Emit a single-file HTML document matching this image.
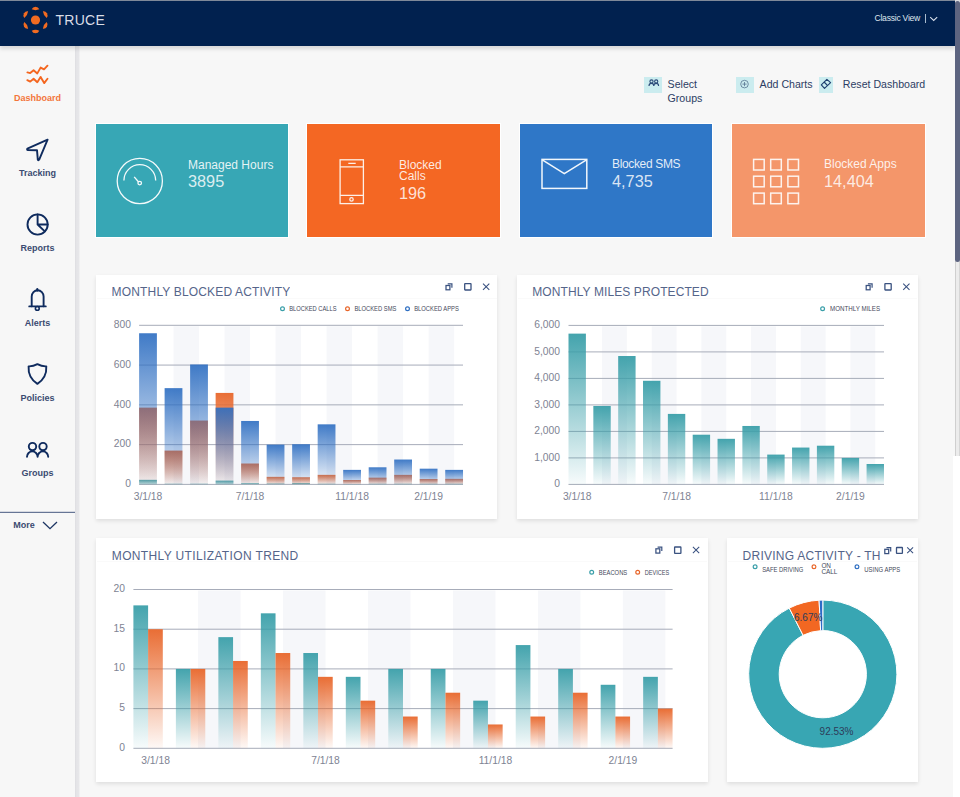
<!DOCTYPE html>
<html lang="en">
<head>
<meta charset="utf-8">
<title>TRUCE Dashboard</title>
<style>
*{box-sizing:border-box;margin:0;padding:0}
html,body{width:960px;height:797px;overflow:hidden;background:#f7f7f7;font-family:"Liberation Sans",Arial,sans-serif}
.abs{position:absolute}
.t{position:absolute;white-space:nowrap;line-height:1}
#hdr{position:absolute;left:0;top:0;width:955px;height:46px;background:#01214f;border-top:1px solid #7f8999;box-shadow:0 2.5px 4px rgba(0,0,0,.13);z-index:3}
#side{position:absolute;left:0;top:46px;width:75px;height:751px;background:#f7f7f7;z-index:2}
#sideshadow{position:absolute;left:75px;top:46px;width:6px;height:751px;background:linear-gradient(to right,#dcdce0 0,#e4e4e7 1.2px,#e6e6e9 3.6px,#f7f7f7 5.2px);z-index:2}
.nav{position:absolute;left:0;width:75px;text-align:center;font-size:9px;font-weight:bold;color:#3b4b71}
.nav svg{position:absolute}
.card{position:absolute;top:124px;height:113px;outline:1px solid #fff}
.card .lab{position:absolute;left:92px;font-size:12px;color:rgba(255,255,255,.88);white-space:nowrap;line-height:1}
.card .val{position:absolute;left:92px;font-size:16.3px;color:rgba(255,255,255,.82);white-space:nowrap;line-height:1}
.w{position:absolute;background:#fff;box-shadow:0 2px 4px rgba(0,0,0,.1)}
.wt{position:absolute;font-size:12px;color:#55658a;white-space:nowrap;line-height:1;overflow:hidden}
.ov{position:absolute;left:0;top:0;z-index:1;pointer-events:none}
.abox{position:absolute;top:77px;height:16px;background:#cbecef}
.atext{position:absolute;font-size:10.6px;color:#2c3d64;white-space:nowrap;line-height:1}
#sbtop{position:absolute;left:955px;top:0;width:5px;height:3px;background:#dcdce0;z-index:4}
#sb{position:absolute;left:955px;top:1px;width:5px;height:261px;background:#5d6480;border-radius:2.5px;z-index:5}
#sbt{position:absolute;left:955px;top:261px;width:5px;height:195px;background:#ececec;border-left:1px solid #cfcfcf;border-right:1px solid #d6d6d6;z-index:4}
#sbw{position:absolute;left:953px;top:456px;width:7px;height:341px;background:#fff;z-index:4}
</style>
</head>
<body>
<!-- header -->
<div id="hdr">
  <svg class="abs" style="left:20px;top:3px" width="32" height="32" viewBox="0 0 32 32">
    <g transform="translate(15.5 16)" fill="#f26b21">
      <circle cx="0" cy="0" r="4.6"/>
      <path d="M-3.8 -10.7 A4.1 4.1 0 0 1 3.8 -10.7 A9.5 9.5 0 0 1 -3.8 -10.7 Z"/>
      <path d="M-3.8 -10.7 A4.1 4.1 0 0 1 3.8 -10.7 A9.5 9.5 0 0 1 -3.8 -10.7 Z" transform="rotate(60)"/>
      <path d="M-3.8 -10.7 A4.1 4.1 0 0 1 3.8 -10.7 A9.5 9.5 0 0 1 -3.8 -10.7 Z" transform="rotate(120)"/>
      <path d="M-3.8 -10.7 A4.1 4.1 0 0 1 3.8 -10.7 A9.5 9.5 0 0 1 -3.8 -10.7 Z" transform="rotate(180)"/>
      <path d="M-3.8 -10.7 A4.1 4.1 0 0 1 3.8 -10.7 A9.5 9.5 0 0 1 -3.8 -10.7 Z" transform="rotate(240)"/>
      <path d="M-3.8 -10.7 A4.1 4.1 0 0 1 3.8 -10.7 A9.5 9.5 0 0 1 -3.8 -10.7 Z" transform="rotate(300)"/>
    </g>
  </svg>
  <div class="t" style="left:55.5px;top:11.5px;font-size:14px;color:#d9dde6;letter-spacing:0.25px">TRUCE</div>
  <div class="t" style="left:874.5px;top:12.5px;font-size:8.6px;color:#dfe5ee;letter-spacing:-0.25px">Classic View</div>
  <div class="abs" style="left:924.5px;top:13px;width:1px;height:8.7px;background:#a9bbcf"></div>
  <svg class="abs" style="left:929px;top:13.5px" width="10" height="8" viewBox="0 0 10 8">
    <path d="M1.2 2.2 L4.7 5.5 L8.2 2.2" fill="none" stroke="#dce3ee" stroke-width="1.05"/>
  </svg>
</div>

<!-- sidebar -->
<div id="side">
  <svg class="abs" style="left:0;top:0" width="75" height="751" viewBox="0 46 75 751">
    <g fill="none" stroke="#f4661f" stroke-width="1.9" stroke-linejoin="round" stroke-linecap="round">
      <path d="M27.4 72.4 L30.2 73.1 L33.6 70.3 L37.3 73.4 L40.6 67.6 L44 69.4 L47.5 65.7"/>
      <path d="M27.3 80.2 L30.2 81.6 L33.6 78.7 L37.3 82.2 L40.6 76.9 L44.2 83.1 L47.5 78.7"/>
    </g>
    <g fill="none" stroke="#0f2b5e" stroke-width="1.9" stroke-linejoin="round" stroke-linecap="round">
      <path d="M47.6 139.6 L27.4 148.6 Q26.6 149.8 28 150.1 L37 150.2 L37.8 159.6 Q38.4 160.9 39.2 159.6 Z"/>
      <circle cx="37.6" cy="224.5" r="10.1"/>
      <path d="M37.6 214.4 V224.5 H47.7 M37.6 224.5 L44.8 231.4"/>
      <path d="M31.7 306.3 V296.5 A5.95 6.3 0 0 1 43.6 296.5 V306.3"/>
      <path d="M29.2 306.4 H45.8" stroke-width="1.8"/>
      <path d="M37.3 289.2 V290.6" stroke-width="2.2"/>
      <circle cx="37.3" cy="308.4" r="1.9" stroke-width="1.6"/>
      <path d="M37.4 364.2 Q33 366.6 28.6 366.4 Q27.8 377.6 37.4 383.9 Q47 377.6 46.3 366.4 Q41.8 366.6 37.4 364.2 Z"/>
      <circle cx="32.5" cy="446.6" r="3.7"/>
      <circle cx="43" cy="446.6" r="3.7"/>
      <path d="M27 456.8 A5.3 5.4 0 0 1 37.6 456.8 A5.3 5.4 0 0 1 48.2 456.8"/>
    </g>
    <rect x="0" y="511.8" width="75" height="1.1" fill="#56678a"/>
    <path d="M43 522 L50 528.6 L57 522" fill="none" stroke="#1d3563" stroke-width="1.3"/>
  </svg>
  <div class="t nav" style="top:48px;color:#f3753b">Dashboard</div>
  <div class="t nav" style="top:123px">Tracking</div>
  <div class="t nav" style="top:198px">Reports</div>
  <div class="t nav" style="top:273px">Alerts</div>
  <div class="t nav" style="top:348px">Policies</div>
  <div class="t nav" style="top:423px">Groups</div>
  <div class="t" style="left:13.2px;top:474.6px;font-size:9px;font-weight:bold;color:#3b4b71">More</div>
</div>
<div id="sideshadow"></div>

<!-- action bar -->
<div class="abox" style="left:644px;width:18px"></div>
<svg class="abs" style="left:644px;top:77px" width="18" height="16" viewBox="644 77 18 16">
  <g fill="none" stroke="#2b4a78" stroke-width="1.1">
    <circle cx="651.5" cy="81.5" r="1.6"/>
    <circle cx="656.2" cy="81.5" r="1.6"/>
    <path d="M649 86 A2.4 2.6 0 0 1 653.8 86 A2.4 2.6 0 0 1 658.6 86"/>
  </g>
</svg>
<div class="atext" style="left:667.6px;top:78.8px">Select</div>
<div class="atext" style="left:667.6px;top:93.4px">Groups</div>
<div class="abox" style="left:736px;width:18px"></div>
<svg class="abs" style="left:736px;top:77px" width="18" height="16" viewBox="736 77 18 16">
  <g fill="none" stroke="#56748f" stroke-width="0.8">
    <circle cx="744.5" cy="84.1" r="3.8"/>
    <path d="M744.5 82 V86.2 M742.4 84.1 H746.6"/>
  </g>
</svg>
<div class="atext" style="left:759.6px;top:79.2px">Add Charts</div>
<div class="abox" style="left:818.5px;width:14.5px"></div>
<svg class="abs" style="left:818px;top:77px" width="16" height="16" viewBox="818 77 16 16">
  <g fill="none" stroke="#1e3f6f" stroke-width="1.15" stroke-linejoin="round">
    <path d="M826.9 79.4 L830.6 82.6 L824.5 88.4 L821.3 84.9 Z"/>
    <path d="M824.1 82 L827.6 85.6"/>
  </g>
</svg>
<div class="atext" style="left:842.8px;top:79.2px">Reset Dashboard</div>

<!-- KPI cards -->
<div class="card" style="left:96px;width:192px;background:#37a7b5">
  <svg class="abs" style="left:0;top:0" width="192" height="113" viewBox="96 124 192 113">
    <g fill="none" stroke="#f4fafb" stroke-width="1.3">
      <circle cx="139.8" cy="181" r="22.6"/>
      <path d="M123.9 180.6 A15.9 15.9 0 0 1 155.7 180.6"/>
      <path d="M134.2 176.8 L138.6 182"/>
      <circle cx="139.7" cy="183.1" r="1.8"/>
    </g>
  </svg>
  <div class="lab" style="top:34.6px">Managed Hours</div>
  <div class="val" style="top:49px">3895</div>
</div>
<div class="card" style="left:307px;width:193px;background:#f46723">
  <svg class="abs" style="left:0;top:0" width="193" height="113" viewBox="307 124 193 113">
    <g fill="none" stroke="#fdf0e8" stroke-width="1.3">
      <rect x="340.1" y="159.8" width="23.3" height="43.8"/>
      <path d="M340.1 166.9 H363.4 M340.1 195.4 H363.4 M348.3 163.4 H355.7"/>
      <circle cx="351.5" cy="199.4" r="1.7"/>
    </g>
  </svg>
  <div class="lab" style="top:34.6px">Blocked</div>
  <div class="lab" style="top:46.4px">Calls</div>
  <div class="val" style="top:60.8px">196</div>
</div>
<div class="card" style="left:520px;width:192px;background:#2f77c7">
  <svg class="abs" style="left:0;top:0" width="192" height="113" viewBox="520 124 192 113">
    <g fill="none" stroke="#f2f7fc" stroke-width="1.5">
      <rect x="542" y="159.4" width="44.8" height="29"/>
      <path d="M542.3 159.8 L564.3 173.6 L586.5 159.8"/>
    </g>
  </svg>
  <div class="lab" style="top:34.4px;letter-spacing:-0.35px">Blocked SMS</div>
  <div class="val" style="top:49.2px">4,735</div>
</div>
<div class="card" style="left:732px;width:193px;background:#f4966a">
  <svg class="abs" style="left:0;top:0" width="193" height="113" viewBox="732 124 193 113">
    <g fill="none" stroke="#fdf3ee" stroke-width="1.5">
      <rect x="753.6" y="159.4" width="10.6" height="10.6"/><rect x="770.7" y="159.4" width="10.6" height="10.6"/><rect x="787.9" y="159.4" width="10.6" height="10.6"/>
      <rect x="753.6" y="176.2" width="10.6" height="10.6"/><rect x="770.7" y="176.2" width="10.6" height="10.6"/><rect x="787.9" y="176.2" width="10.6" height="10.6"/>
      <rect x="753.6" y="193.1" width="10.6" height="10.6"/><rect x="770.7" y="193.1" width="10.6" height="10.6"/><rect x="787.9" y="193.1" width="10.6" height="10.6"/>
    </g>
  </svg>
  <div class="lab" style="top:34.4px">Blocked Apps</div>
  <div class="val" style="top:49px">14,404</div>
</div>

<!-- widgets -->
<div class="w" style="left:96px;top:275px;width:401px;height:244px"></div>
<div class="w" style="left:517px;top:275px;width:401px;height:244px"></div>
<div class="w" style="left:96px;top:538px;width:612px;height:244px"></div>
<div class="w" style="left:727px;top:538px;width:191px;height:244px"></div>
<div class="wt" style="left:111.6px;top:286.4px;letter-spacing:0.16px;z-index:2">MONTHLY BLOCKED ACTIVITY</div>
<div class="wt" style="left:532.2px;top:286.4px;letter-spacing:0.1px;z-index:2">MONTHLY MILES PROTECTED</div>
<div class="wt" style="left:111.8px;top:549.9px;letter-spacing:0.36px;z-index:2">MONTHLY UTILIZATION TREND</div>
<div class="wt" style="left:742.6px;top:549.8px;letter-spacing:0.25px;width:138.5px;z-index:2">DRIVING ACTIVITY - THIS MONTH</div>

<svg class="ov" width="960" height="797" viewBox="0 0 960 797" font-family="Liberation Sans, Arial, sans-serif"><defs><linearGradient id="gB" x1="0" y1="0" x2="0" y2="1"><stop offset="0" stop-color="#2f6fc2" stop-opacity="0.92"/><stop offset="1" stop-color="#2f6fc2" stop-opacity="0.05"/></linearGradient><linearGradient id="gO" x1="0" y1="0" x2="0" y2="1"><stop offset="0" stop-color="#e8662a" stop-opacity="0.95"/><stop offset="1" stop-color="#e8662a" stop-opacity="0.05"/></linearGradient><linearGradient id="gT" x1="0" y1="0" x2="0" y2="1"><stop offset="0" stop-color="#3a9fa9" stop-opacity="0.95"/><stop offset="1" stop-color="#3a9fa9" stop-opacity="0.3"/></linearGradient><linearGradient id="gT2" x1="0" y1="0" x2="0" y2="1"><stop offset="0" stop-color="#3a9fa9" stop-opacity="0.95"/><stop offset="1" stop-color="#3a9fa9" stop-opacity="0.04"/></linearGradient><linearGradient id="gT3" x1="0" y1="0" x2="0" y2="1"><stop offset="0" stop-color="#3a9fa9" stop-opacity="0.95"/><stop offset="1" stop-color="#3a9fa9" stop-opacity="0.04"/></linearGradient><linearGradient id="gO3" x1="0" y1="0" x2="0" y2="1"><stop offset="0" stop-color="#e8662a" stop-opacity="0.95"/><stop offset="1" stop-color="#e8662a" stop-opacity="0.04"/></linearGradient></defs><rect x="97" y="298" width="400" height="1" fill="#fafafa"/><rect x="518" y="298" width="399" height="1" fill="#fafafa"/><rect x="97" y="561" width="610" height="1" fill="#fafafa"/><rect x="728" y="561" width="189" height="1" fill="#fafafa"/><rect x="173.51" y="326.3" width="25.51" height="158.1" fill="#f6f7fa"/><rect x="224.53" y="326.3" width="25.51" height="158.1" fill="#f6f7fa"/><rect x="275.55" y="326.3" width="25.51" height="158.1" fill="#f6f7fa"/><rect x="326.57" y="326.3" width="25.51" height="158.1" fill="#f6f7fa"/><rect x="377.59" y="326.3" width="25.51" height="158.1" fill="#f6f7fa"/><rect x="428.61" y="326.3" width="25.51" height="158.1" fill="#f6f7fa"/><rect x="139.1" y="483.9" width="323.9" height="1" fill="#a7acb9"/><text x="131" y="487.1" font-size="10.3" fill="#7e8393" text-anchor="end">0</text><rect x="139.1" y="444.12" width="323.9" height="1" fill="#a7acb9"/><text x="131" y="447.32" font-size="10.3" fill="#7e8393" text-anchor="end">200</text><rect x="139.1" y="404.35" width="323.9" height="1" fill="#a7acb9"/><text x="131" y="407.55" font-size="10.3" fill="#7e8393" text-anchor="end">400</text><rect x="139.1" y="364.57" width="323.9" height="1" fill="#a7acb9"/><text x="131" y="367.77" font-size="10.3" fill="#7e8393" text-anchor="end">600</text><rect x="139.1" y="324.8" width="323.9" height="1" fill="#a7acb9"/><text x="131" y="328" font-size="10.3" fill="#7e8393" text-anchor="end">800</text><rect x="139.1" y="479.83" width="17.8" height="4.57" fill="url(#gT)"/><rect x="139.1" y="407.63" width="17.8" height="76.77" fill="url(#gO)"/><rect x="139.1" y="333.25" width="17.8" height="151.14" fill="url(#gB)"/><rect x="164.61" y="483.8" width="17.8" height="0.6" fill="url(#gT)"/><rect x="164.61" y="450.59" width="17.8" height="33.81" fill="url(#gO)"/><rect x="164.61" y="388.14" width="17.8" height="96.26" fill="url(#gB)"/><rect x="190.12" y="483.8" width="17.8" height="0.6" fill="url(#gT)"/><rect x="190.12" y="420.56" width="17.8" height="63.84" fill="url(#gO)"/><rect x="190.12" y="364.48" width="17.8" height="119.92" fill="url(#gB)"/><rect x="215.63" y="480.62" width="17.8" height="3.78" fill="url(#gT)"/><rect x="215.63" y="392.92" width="17.8" height="91.48" fill="url(#gO)"/><rect x="215.63" y="407.63" width="17.8" height="76.77" fill="url(#gB)"/><rect x="241.14" y="483.21" width="17.8" height="1.19" fill="url(#gT)"/><rect x="241.14" y="463.52" width="17.8" height="20.88" fill="url(#gO)"/><rect x="241.14" y="420.96" width="17.8" height="63.44" fill="url(#gB)"/><rect x="266.65" y="483.6" width="17.8" height="0.8" fill="url(#gT)"/><rect x="266.65" y="476.84" width="17.8" height="7.56" fill="url(#gO)"/><rect x="266.65" y="444.62" width="17.8" height="39.77" fill="url(#gB)"/><rect x="292.16" y="483.01" width="17.8" height="1.39" fill="url(#gT)"/><rect x="292.16" y="477.24" width="17.8" height="7.16" fill="url(#gO)"/><rect x="292.16" y="444.23" width="17.8" height="40.17" fill="url(#gB)"/><rect x="317.67" y="483.8" width="17.8" height="0.6" fill="url(#gT)"/><rect x="317.67" y="474.85" width="17.8" height="9.55" fill="url(#gO)"/><rect x="317.67" y="424.34" width="17.8" height="60.06" fill="url(#gB)"/><rect x="343.18" y="484" width="17.8" height="0.4" fill="url(#gT)"/><rect x="343.18" y="480.02" width="17.8" height="4.38" fill="url(#gO)"/><rect x="343.18" y="469.88" width="17.8" height="14.52" fill="url(#gB)"/><rect x="368.69" y="483.8" width="17.8" height="0.6" fill="url(#gT)"/><rect x="368.69" y="477.64" width="17.8" height="6.76" fill="url(#gO)"/><rect x="368.69" y="467.3" width="17.8" height="17.1" fill="url(#gB)"/><rect x="394.2" y="483.8" width="17.8" height="0.6" fill="url(#gT)"/><rect x="394.2" y="474.85" width="17.8" height="9.55" fill="url(#gO)"/><rect x="394.2" y="459.54" width="17.8" height="24.86" fill="url(#gB)"/><rect x="419.71" y="483.8" width="17.8" height="0.6" fill="url(#gT)"/><rect x="419.71" y="479.03" width="17.8" height="5.37" fill="url(#gO)"/><rect x="419.71" y="468.69" width="17.8" height="15.71" fill="url(#gB)"/><rect x="445.22" y="483.8" width="17.8" height="0.6" fill="url(#gT)"/><rect x="445.22" y="478.83" width="17.8" height="5.57" fill="url(#gO)"/><rect x="445.22" y="469.88" width="17.8" height="14.52" fill="url(#gB)"/><text x="148" y="500" font-size="10.3" fill="#7e8393" text-anchor="middle">3/1/18</text><text x="250.04" y="500" font-size="10.3" fill="#7e8393" text-anchor="middle">7/1/18</text><text x="352.08" y="500" font-size="10.3" fill="#7e8393" text-anchor="middle">11/1/18</text><text x="428.61" y="500" font-size="10.3" fill="#7e8393" text-anchor="middle">2/1/19</text><circle cx="282.5" cy="308.7" r="1.9" fill="none" stroke="#3a9fa9" stroke-width="1.2"/><text x="289.2" y="310.8" font-size="6.4" fill="#44485a" textLength="47.4" lengthAdjust="spacingAndGlyphs">BLOCKED CALLS</text><circle cx="347.5" cy="308.7" r="1.9" fill="none" stroke="#e8662a" stroke-width="1.2"/><text x="354.4" y="310.8" font-size="6.4" fill="#44485a" textLength="42" lengthAdjust="spacingAndGlyphs">BLOCKED SMS</text><circle cx="407.5" cy="308.7" r="1.9" fill="none" stroke="#2f6fc2" stroke-width="1.2"/><text x="414.2" y="310.8" font-size="6.4" fill="#44485a" textLength="44.7" lengthAdjust="spacingAndGlyphs">BLOCKED APPS</text><rect x="602.04" y="326.4" width="24.84" height="158" fill="#f6f7fa"/><rect x="651.72" y="326.4" width="24.84" height="158" fill="#f6f7fa"/><rect x="701.4" y="326.4" width="24.84" height="158" fill="#f6f7fa"/><rect x="751.08" y="326.4" width="24.84" height="158" fill="#f6f7fa"/><rect x="800.76" y="326.4" width="24.84" height="158" fill="#f6f7fa"/><rect x="850.44" y="326.4" width="24.84" height="158" fill="#f6f7fa"/><rect x="568.5" y="483.9" width="315.5" height="1" fill="#a7acb9"/><text x="560" y="487" font-size="10.3" fill="#7e8393" text-anchor="end">0</text><rect x="568.5" y="457.4" width="315.5" height="1" fill="#a7acb9"/><text x="560" y="460.5" font-size="10.3" fill="#7e8393" text-anchor="end">1,000</text><rect x="568.5" y="430.9" width="315.5" height="1" fill="#a7acb9"/><text x="560" y="434" font-size="10.3" fill="#7e8393" text-anchor="end">2,000</text><rect x="568.5" y="404.4" width="315.5" height="1" fill="#a7acb9"/><text x="560" y="407.5" font-size="10.3" fill="#7e8393" text-anchor="end">3,000</text><rect x="568.5" y="377.9" width="315.5" height="1" fill="#a7acb9"/><text x="560" y="381" font-size="10.3" fill="#7e8393" text-anchor="end">4,000</text><rect x="568.5" y="351.4" width="315.5" height="1" fill="#a7acb9"/><text x="560" y="354.5" font-size="10.3" fill="#7e8393" text-anchor="end">5,000</text><rect x="568.5" y="324.9" width="315.5" height="1" fill="#a7acb9"/><text x="560" y="328" font-size="10.3" fill="#7e8393" text-anchor="end">6,000</text><rect x="568.5" y="333.62" width="17.4" height="150.78" fill="url(#gT2)"/><rect x="593.34" y="405.96" width="17.4" height="78.44" fill="url(#gT2)"/><rect x="618.18" y="356.01" width="17.4" height="128.39" fill="url(#gT2)"/><rect x="643.02" y="380.78" width="17.4" height="103.62" fill="url(#gT2)"/><rect x="667.86" y="413.91" width="17.4" height="70.49" fill="url(#gT2)"/><rect x="692.7" y="434.71" width="17.4" height="49.69" fill="url(#gT2)"/><rect x="717.54" y="438.82" width="17.4" height="45.58" fill="url(#gT2)"/><rect x="742.38" y="425.97" width="17.4" height="58.43" fill="url(#gT2)"/><rect x="767.22" y="454.59" width="17.4" height="29.81" fill="url(#gT2)"/><rect x="792.06" y="447.56" width="17.4" height="36.83" fill="url(#gT2)"/><rect x="816.9" y="445.71" width="17.4" height="38.69" fill="url(#gT2)"/><rect x="841.74" y="457.9" width="17.4" height="26.5" fill="url(#gT2)"/><rect x="866.58" y="464" width="17.4" height="20.4" fill="url(#gT2)"/><text x="577.2" y="499.8" font-size="10.3" fill="#7e8393" text-anchor="middle">3/1/18</text><text x="676.56" y="499.8" font-size="10.3" fill="#7e8393" text-anchor="middle">7/1/18</text><text x="775.92" y="499.8" font-size="10.3" fill="#7e8393" text-anchor="middle">11/1/18</text><text x="850.44" y="499.8" font-size="10.3" fill="#7e8393" text-anchor="middle">2/1/19</text><circle cx="822.6" cy="308.7" r="1.9" fill="none" stroke="#3a9fa9" stroke-width="1.2"/><text x="830" y="310.8" font-size="6.4" fill="#44485a" textLength="50.1" lengthAdjust="spacingAndGlyphs">MONTHLY MILES</text><rect x="198.08" y="590.5" width="42.48" height="157.8" fill="#f6f7fa"/><rect x="283.04" y="590.5" width="42.48" height="157.8" fill="#f6f7fa"/><rect x="368" y="590.5" width="42.48" height="157.8" fill="#f6f7fa"/><rect x="452.96" y="590.5" width="42.48" height="157.8" fill="#f6f7fa"/><rect x="537.92" y="590.5" width="42.48" height="157.8" fill="#f6f7fa"/><rect x="622.88" y="590.5" width="42.48" height="157.8" fill="#f6f7fa"/><rect x="133.4" y="747.8" width="539.2" height="1" fill="#a7acb9"/><text x="125" y="750.8" font-size="10.3" fill="#7e8393" text-anchor="end">0</text><rect x="133.4" y="708.1" width="539.2" height="1" fill="#a7acb9"/><text x="125" y="711.1" font-size="10.3" fill="#7e8393" text-anchor="end">5</text><rect x="133.4" y="668.4" width="539.2" height="1" fill="#a7acb9"/><text x="125" y="671.4" font-size="10.3" fill="#7e8393" text-anchor="end">10</text><rect x="133.4" y="628.7" width="539.2" height="1" fill="#a7acb9"/><text x="125" y="631.7" font-size="10.3" fill="#7e8393" text-anchor="end">15</text><rect x="133.4" y="589" width="539.2" height="1" fill="#a7acb9"/><text x="125" y="592" font-size="10.3" fill="#7e8393" text-anchor="end">20</text><rect x="133.4" y="605.38" width="14.7" height="142.92" fill="url(#gT3)"/><rect x="148.1" y="629.2" width="14.7" height="119.1" fill="url(#gO3)"/><rect x="175.88" y="668.9" width="14.7" height="79.4" fill="url(#gT3)"/><rect x="190.58" y="668.9" width="14.7" height="79.4" fill="url(#gO3)"/><rect x="218.36" y="637.14" width="14.7" height="111.16" fill="url(#gT3)"/><rect x="233.06" y="660.96" width="14.7" height="87.34" fill="url(#gO3)"/><rect x="260.84" y="613.32" width="14.7" height="134.98" fill="url(#gT3)"/><rect x="275.54" y="653.02" width="14.7" height="95.28" fill="url(#gO3)"/><rect x="303.32" y="653.02" width="14.7" height="95.28" fill="url(#gT3)"/><rect x="318.02" y="676.84" width="14.7" height="71.46" fill="url(#gO3)"/><rect x="345.8" y="676.84" width="14.7" height="71.46" fill="url(#gT3)"/><rect x="360.5" y="700.66" width="14.7" height="47.64" fill="url(#gO3)"/><rect x="388.28" y="668.9" width="14.7" height="79.4" fill="url(#gT3)"/><rect x="402.98" y="716.54" width="14.7" height="31.76" fill="url(#gO3)"/><rect x="430.76" y="668.9" width="14.7" height="79.4" fill="url(#gT3)"/><rect x="445.46" y="692.72" width="14.7" height="55.58" fill="url(#gO3)"/><rect x="473.24" y="700.66" width="14.7" height="47.64" fill="url(#gT3)"/><rect x="487.94" y="724.48" width="14.7" height="23.82" fill="url(#gO3)"/><rect x="515.72" y="645.08" width="14.7" height="103.22" fill="url(#gT3)"/><rect x="530.42" y="716.54" width="14.7" height="31.76" fill="url(#gO3)"/><rect x="558.2" y="668.9" width="14.7" height="79.4" fill="url(#gT3)"/><rect x="572.9" y="692.72" width="14.7" height="55.58" fill="url(#gO3)"/><rect x="600.68" y="684.78" width="14.7" height="63.52" fill="url(#gT3)"/><rect x="615.38" y="716.54" width="14.7" height="31.76" fill="url(#gO3)"/><rect x="643.16" y="676.84" width="14.7" height="71.46" fill="url(#gT3)"/><rect x="657.86" y="708.6" width="14.7" height="39.7" fill="url(#gO3)"/><text x="155.6" y="763.7" font-size="10.3" fill="#7e8393" text-anchor="middle">3/1/18</text><text x="325.52" y="763.7" font-size="10.3" fill="#7e8393" text-anchor="middle">7/1/18</text><text x="495.44" y="763.7" font-size="10.3" fill="#7e8393" text-anchor="middle">11/1/18</text><text x="622.88" y="763.7" font-size="10.3" fill="#7e8393" text-anchor="middle">2/1/19</text><circle cx="591.7" cy="572.3" r="1.9" fill="none" stroke="#3a9fa9" stroke-width="1.2"/><text x="598.75" y="574.7" font-size="6.4" fill="#44485a" textLength="28.5" lengthAdjust="spacingAndGlyphs">BEACONS</text><circle cx="637.7" cy="572.3" r="1.9" fill="none" stroke="#e8662a" stroke-width="1.2"/><text x="644.8" y="574.7" font-size="6.4" fill="#44485a" textLength="24.5" lengthAdjust="spacingAndGlyphs">DEVICES</text><path d="M822.8 600.1 A74.1 74.1 0 1 1 789.28 608.11 L803.08 635.31 A43.6 43.6 0 1 0 822.8 630.6 Z" fill="#38a6b3" stroke="#fff" stroke-width="1"/><path d="M789.28 608.11 A74.1 74.1 0 0 1 819.08 600.19 L820.61 630.66 A43.6 43.6 0 0 0 803.08 635.31 Z" fill="#f26722" stroke="#fff" stroke-width="1"/><path d="M819.08 600.19 A74.1 74.1 0 0 1 822.8 600.1 L822.8 630.6 A43.6 43.6 0 0 0 820.61 630.66 Z" fill="#2c6cc6" stroke="#fff" stroke-width="1"/><text x="794" y="621" font-size="10" fill="#2d3c5a">6.67%</text><text x="819.6" y="734.5" font-size="10" fill="#2d3c5a">92.53%</text><circle cx="755.1" cy="566.8" r="1.9" fill="none" stroke="#3a9fa9" stroke-width="1.2"/><text x="762.2" y="571.8" font-size="6.4" fill="#44485a" textLength="41.2" lengthAdjust="spacingAndGlyphs">SAFE DRIVING</text><circle cx="814" cy="566.8" r="1.9" fill="none" stroke="#e8662a" stroke-width="1.2"/><text x="821.4" y="568.1" font-size="6.4" fill="#44485a">ON</text><text x="821.4" y="574.3" font-size="6.4" fill="#44485a">CALL</text><circle cx="857" cy="566.8" r="1.9" fill="none" stroke="#2f6fc2" stroke-width="1.2"/><text x="864.3" y="571.8" font-size="6.4" fill="#44485a" textLength="36" lengthAdjust="spacingAndGlyphs">USING APPS</text><rect x="446" y="285.5" width="3.9" height="4.3" fill="none" stroke="#3a5280" stroke-width="1.25"/><path d="M447.7 283.9 H451.9 V287.8" fill="none" stroke="#3a5280" stroke-width="1.2"/><rect x="464.7" y="283.7" width="6.3" height="6.3" rx="0.4" fill="none" stroke="#3a5280" stroke-width="1.3"/><path d="M483 283.6 L489.3 289.8 M489.3 283.6 L483 289.8" stroke="#3a5280" stroke-width="1.05"/><rect x="866.2" y="285.5" width="3.9" height="4.3" fill="none" stroke="#3a5280" stroke-width="1.25"/><path d="M867.9 283.9 H872.1 V287.8" fill="none" stroke="#3a5280" stroke-width="1.2"/><rect x="884.9" y="283.7" width="6.3" height="6.3" rx="0.4" fill="none" stroke="#3a5280" stroke-width="1.3"/><path d="M903.2 283.6 L909.5 289.8 M909.5 283.6 L903.2 289.8" stroke="#3a5280" stroke-width="1.05"/><rect x="655.9" y="548.8" width="3.9" height="4.3" fill="none" stroke="#3a5280" stroke-width="1.25"/><path d="M657.6 547.2 H661.8 V551.1" fill="none" stroke="#3a5280" stroke-width="1.2"/><rect x="674.6" y="547" width="6.3" height="6.3" rx="0.4" fill="none" stroke="#3a5280" stroke-width="1.3"/><path d="M692.9 546.9 L699.2 553.1 M699.2 546.9 L692.9 553.1" stroke="#3a5280" stroke-width="1.05"/><rect x="884.8" y="549.3" width="3.9" height="4.3" fill="none" stroke="#3a5280" stroke-width="1.25"/><path d="M886.5 547.7 H890.7 V551.6" fill="none" stroke="#3a5280" stroke-width="1.2"/><rect x="896.5" y="547.5" width="5.9" height="5.9" rx="0.4" fill="none" stroke="#3a5280" stroke-width="1.3"/><path d="M907.2 547.4 L913.1 553.2 M913.1 547.4 L907.2 553.2" stroke="#3a5280" stroke-width="1.05"/></svg>

<!-- scrollbar -->
<div id="sbtop"></div>
<div id="sb"></div>
<div id="sbt"></div>
<div id="sbw"></div>
</body>
</html>
